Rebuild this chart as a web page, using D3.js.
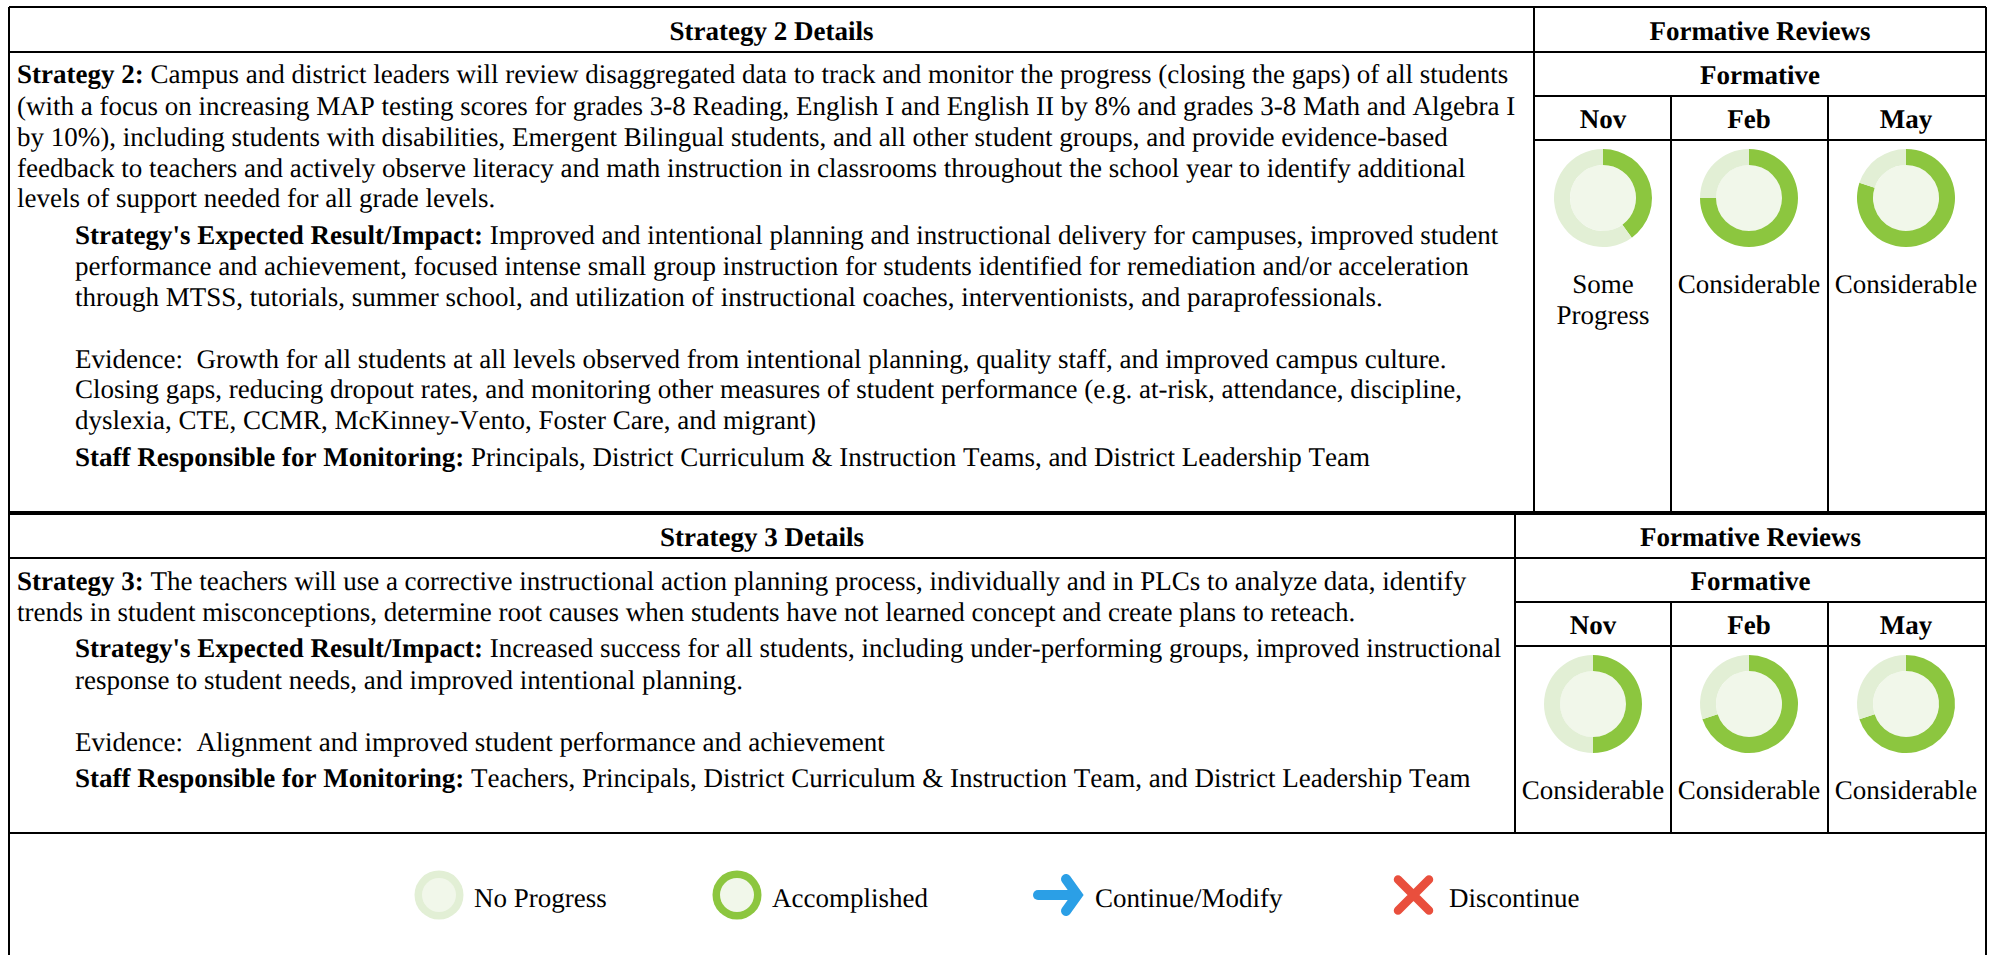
<!DOCTYPE html>
<html>
<head>
<meta charset="utf-8">
<script src="https://cdn.jsdelivr.net/npm/d3@7"></script>
<style>
  html, body { margin: 0; padding: 0; background: #fff; overflow: hidden; }
  text { font-family: "Liberation Serif", serif; font-size: 27px; fill: #000; font-kerning: none; text-rendering: geometricPrecision; }
</style>
</head>
<body>
<div id="chart"></div>
<script>
var months = ["Nov", "Feb", "May"];

// share of the ring that is green
var strategy2Values = [0.40, 0.75, 0.80];
var strategy3Values = [0.50, 0.70, 0.70];

var strategy2Labels = [["Some", "Progress"], ["Considerable"], ["Considerable"]];
var strategy3Labels = [["Considerable"], ["Considerable"], ["Considerable"]];

// each line is [bold part, normal part, indented]
var strategy2Lines = [
  ["Strategy 2:", " Campus and district leaders will review disaggregated data to track and monitor the progress (closing the gaps) of all students", 0],
  ["", "(with a focus on increasing MAP testing scores for grades 3-8 Reading, English I and English II by 8% and grades 3-8 Math and Algebra I", 0],
  ["", "by 10%), including students with disabilities, Emergent Bilingual students, and all other student groups, and provide evidence-based", 0],
  ["", "feedback to teachers and actively observe literacy and math instruction in classrooms throughout the school year to identify additional", 0],
  ["", "levels of support needed for all grade levels.", 0],
  ["Strategy's Expected Result/Impact:", " Improved and intentional planning and instructional delivery for campuses, improved student", 1],
  ["", "performance and achievement, focused intense small group instruction for students identified for remediation and/or acceleration", 1],
  ["", "through MTSS, tutorials, summer school, and utilization of instructional coaches, interventionists, and paraprofessionals.", 1],
  ["", "Evidence:  Growth for all students at all levels observed from intentional planning, quality staff, and improved campus culture.", 1],
  ["", "Closing gaps, reducing dropout rates, and monitoring other measures of student performance (e.g. at-risk, attendance, discipline,", 1],
  ["", "dyslexia, CTE, CCMR, McKinney-Vento, Foster Care, and migrant)", 1],
  ["Staff Responsible for Monitoring:", " Principals, District Curriculum & Instruction Teams, and District Leadership Team", 1]
];
var strategy2Baselines = [83, 115, 146, 177, 207, 244, 275, 306, 368, 398, 429, 466];

var strategy3Lines = [
  ["Strategy 3:", " The teachers will use a corrective instructional action planning process, individually and in PLCs to analyze data, identify", 0],
  ["", "trends in student misconceptions, determine root causes when students have not learned concept and create plans to reteach.", 0],
  ["Strategy's Expected Result/Impact:", " Increased success for all students, including under-performing groups, improved instructional", 1],
  ["", "response to student needs, and improved intentional planning.", 1],
  ["", "Evidence:  Alignment and improved student performance and achievement", 1],
  ["Staff Responsible for Monitoring:", " Teachers, Principals, District Curriculum & Instruction Team, and District Leadership Team", 1]
];
var strategy3Baselines = [590, 621, 657, 689, 751, 787];

var legendLabels = ["No Progress", "Accomplished", "Continue/Modify", "Discontinue"];

var width = 1995, height = 955;
var green = "#8cc63f", lightRing = "#e2efd5", lightFill = "#f1f7ea";

var svg = d3.select("#chart").append("svg")
  .attr("width", width)
  .attr("height", height)
  .style("display", "block");

function hline(x1, x2, y, w) {
  svg.append("line").attr("x1", x1).attr("x2", x2).attr("y1", y).attr("y2", y)
    .attr("stroke", "#000").attr("stroke-width", w || 2);
}
function vline(x, y1, y2, w) {
  svg.append("line").attr("x1", x).attr("x2", x).attr("y1", y1).attr("y2", y2)
    .attr("stroke", "#000").attr("stroke-width", w || 2);
}

function drawBlock(o) {
  var right = 1986, left = 9;

  // grid lines
  hline(left, right, o.top, o.topWidth);
  hline(left, right, o.top + 45);
  hline(o.split, right, o.top + 89);
  hline(o.split, right, o.top + 133);
  hline(left, right, o.bottom, o.bottomWidth);
  vline(o.split, o.top, o.bottom);
  vline(1671, o.top + 89, o.bottom);
  vline(1828, o.top + 89, o.bottom);

  // headers
  svg.append("text").attr("x", (left + o.split) / 2).attr("y", o.top + 33)
    .attr("text-anchor", "middle").attr("font-weight", "bold").text(o.title);
  svg.append("text").attr("x", (o.split + right) / 2).attr("y", o.top + 33)
    .attr("text-anchor", "middle").attr("font-weight", "bold").text("Formative Reviews");
  svg.append("text").attr("x", (o.split + right) / 2).attr("y", o.top + 77)
    .attr("text-anchor", "middle").attr("font-weight", "bold").text("Formative");

  // body text
  var rows = svg.append("g").selectAll("text").data(o.lines).enter().append("text")
    .attr("x", function(d) { return d[2] ? 75 : 17; })
    .attr("y", function(d, i) { return o.baselines[i]; })
    .attr("xml:space", "preserve")
    .style("white-space", "pre");
  rows.append("tspan").attr("font-weight", "bold").text(function(d) { return d[0]; });
  rows.append("tspan").text(function(d) { return d[1]; });

  // month columns
  var colCenter = d3.scaleOrdinal().domain(months).range(o.centers);
  var pie = d3.pie().sort(null);
  var ring = d3.arc().innerRadius(33).outerRadius(49);

  months.forEach(function(m, i) {
    svg.append("text").attr("x", colCenter(m)).attr("y", o.top + 121)
      .attr("text-anchor", "middle").attr("font-weight", "bold").text(m);

    var g = svg.append("g")
      .attr("transform", "translate(" + colCenter(m) + "," + (o.top + 191) + ")");
    g.append("circle").attr("r", 33).attr("fill", lightFill);
    g.selectAll("path").data(pie([o.values[i], 1 - o.values[i]])).enter().append("path")
      .attr("d", ring)
      .attr("fill", function(d, k) { return k == 0 ? green : lightRing; });

    svg.append("g").selectAll("text").data(o.labels[i]).enter().append("text")
      .attr("x", colCenter(m))
      .attr("y", function(d, k) { return o.top + 286 + k * 31; })
      .attr("text-anchor", "middle")
      .text(function(d) { return d; });
  });
}

drawBlock({ top: 7, topWidth: 2, bottom: 513, bottomWidth: 4, split: 1534, title: "Strategy 2 Details",
  lines: strategy2Lines, baselines: strategy2Baselines, values: strategy2Values, labels: strategy2Labels,
  centers: [1603, 1749, 1906] });
drawBlock({ top: 513, topWidth: 4, bottom: 833, bottomWidth: 2, split: 1515, title: "Strategy 3 Details",
  lines: strategy3Lines, baselines: strategy3Baselines, values: strategy3Values, labels: strategy3Labels,
  centers: [1593, 1749, 1906] });

// outer frame
vline(9, 7, 955);
vline(1986, 7, 955);

// legend
var legendX = d3.scaleOrdinal().domain(legendLabels).range([439, 737, 1058, 1413.5]);
var legendTextX = d3.scaleOrdinal().domain(legendLabels).range([474, 772, 1095, 1449]);
var legendY = 895;

legendLabels.forEach(function(name) {
  svg.append("text").attr("x", legendTextX(name)).attr("y", legendY + 12).text(name);
  var g = svg.append("g").attr("transform", "translate(" + legendX(name) + "," + legendY + ")");
  if (name == "No Progress" || name == "Accomplished") {
    g.append("circle").attr("r", 24.5).attr("fill", name == "No Progress" ? lightRing : green);
    g.append("circle").attr("r", 17).attr("fill", lightFill);
  }
  if (name == "Continue/Modify") {
    g.append("path").attr("d", "M-20,0H18")
      .attr("fill", "none").attr("stroke", "#2b9fe6").attr("stroke-width", 10)
      .attr("stroke-linecap", "round");
    g.append("path").attr("d", "M8,-16L19.5,0L8,16")
      .attr("fill", "none").attr("stroke", "#2b9fe6").attr("stroke-width", 10)
      .attr("stroke-linecap", "round").attr("stroke-linejoin", "miter");
  }
  if (name == "Discontinue") {
    g.append("path").attr("d", "M-15.5,-15.5L15.5,15.5M15.5,-15.5L-15.5,15.5")
      .attr("fill", "none").attr("stroke", "#e94f3d").attr("stroke-width", 8.5)
      .attr("stroke-linecap", "round");
  }
});
</script>
</body>
</html>
